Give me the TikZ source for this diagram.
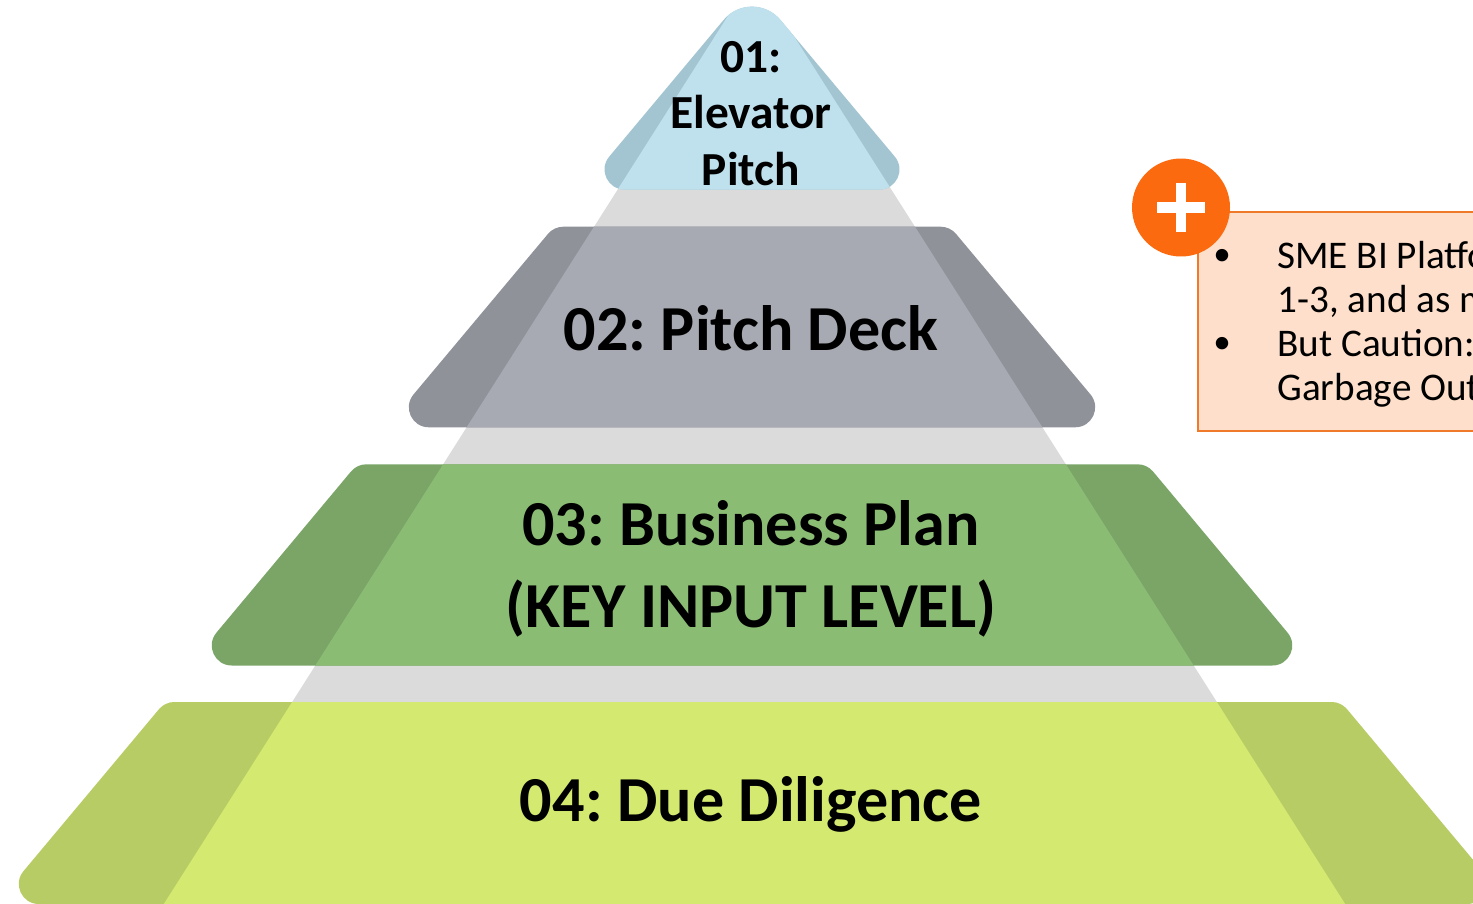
\documentclass[tikz,border=0pt]{standalone}
\usepackage{fontspec}
\setmainfont{Carlito}
\frenchspacing

% Rounded trapezoid: centre x, top y, bottom y, top half width, bottom half width, corner radius
\newcommand\settrap[6]{%
  \pgfmathsetmacro\tzcx{#1}\pgfmathsetmacro\tzyt{#2}\pgfmathsetmacro\tzyb{#3}%
  \pgfmathsetmacro\tzht{#4}\pgfmathsetmacro\tzhb{#5}\pgfmathsetmacro\tzr{#6}%
  \pgfmathsetmacro\tzL{veclen(\tzhb-\tzht,\tzyb-\tzyt)}%
  \pgfmathsetmacro\tzux{(\tzhb-\tzht)/\tzL}%
  \pgfmathsetmacro\tzuy{(\tzyb-\tzyt)/\tzL}%
  \pgfmathsetmacro\tzth{atan2(\tzyb-\tzyt,\tzhb-\tzht)}%
  \pgfmathsetmacro\tzdb{\tzr/tan(\tzth/2)}%
  \pgfmathsetmacro\tzdt{\tzr*tan(\tzth/2)}%
  \pgfmathsetmacro\tzkb{4/3*tan((180-\tzth)/4)/tan((180-\tzth)/2)}%
  \pgfmathsetmacro\tzkt{4/3*tan(\tzth/4)/tan(\tzth/2)}%
}
\newcommand\trapcurve{%
  ({\tzcx-\tzht+\tzdt},{\tzyt}) -- ({\tzcx+\tzht-\tzdt},{\tzyt})
  .. controls ({\tzcx+\tzht-(1-\tzkt)*\tzdt},{\tzyt})
  and ({\tzcx+\tzht+(1-\tzkt)*\tzdt*\tzux},{\tzyt+(1-\tzkt)*\tzdt*\tzuy})
  .. ({\tzcx+\tzht+\tzdt*\tzux},{\tzyt+\tzdt*\tzuy})
  -- ({\tzcx+\tzhb-\tzdb*\tzux},{\tzyb-\tzdb*\tzuy})
  .. controls ({\tzcx+\tzhb-(1-\tzkb)*\tzdb*\tzux},{\tzyb-(1-\tzkb)*\tzdb*\tzuy})
  and ({\tzcx+\tzhb-(1-\tzkb)*\tzdb},{\tzyb})
  .. ({\tzcx+\tzhb-\tzdb},{\tzyb})
  -- ({\tzcx-\tzhb+\tzdb},{\tzyb})
  .. controls ({\tzcx-\tzhb+(1-\tzkb)*\tzdb},{\tzyb})
  and ({\tzcx-\tzhb+(1-\tzkb)*\tzdb*\tzux},{\tzyb-(1-\tzkb)*\tzdb*\tzuy})
  .. ({\tzcx-\tzhb+\tzdb*\tzux},{\tzyb-\tzdb*\tzuy})
  -- ({\tzcx-\tzht-\tzdt*\tzux},{\tzyt+\tzdt*\tzuy})
  .. controls ({\tzcx-\tzht-(1-\tzkt)*\tzdt*\tzux},{\tzyt+(1-\tzkt)*\tzdt*\tzuy})
  and ({\tzcx-\tzht+(1-\tzkt)*\tzdt},{\tzyt})
  .. ({\tzcx-\tzht+\tzdt},{\tzyt}) -- cycle}

% Rounded triangle: centre x, apex y, bottom y, bottom half width, base radius, apex radius
\newcommand\settri[6]{%
  \pgfmathsetmacro\tacx{#1}\pgfmathsetmacro\taya{#2}\pgfmathsetmacro\tayb{#3}%
  \pgfmathsetmacro\tahb{#4}\pgfmathsetmacro\tar{#5}\pgfmathsetmacro\tara{#6}%
  \pgfmathsetmacro\taL{veclen(\tahb,\tayb-\taya)}%
  \pgfmathsetmacro\taux{\tahb/\taL}%
  \pgfmathsetmacro\tauy{(\tayb-\taya)/\taL}%
  \pgfmathsetmacro\tath{atan2(\tayb-\taya,\tahb)}%
  \pgfmathsetmacro\tadb{\tar/tan(\tath/2)}%
  \pgfmathsetmacro\takb{4/3*tan((180-\tath)/4)/tan((180-\tath)/2)}%
  \pgfmathsetmacro\tada{\tara*tan(\tath)}%
  \pgfmathsetmacro\taka{4/3*tan(\tath/2)/tan(\tath)}%
}
\newcommand\tricurve{%
  ({\tacx+\tada*\taux},{\taya+\tada*\tauy})
  -- ({\tacx+\tahb-\tadb*\taux},{\tayb-\tadb*\tauy})
  .. controls ({\tacx+\tahb-(1-\takb)*\tadb*\taux},{\tayb-(1-\takb)*\tadb*\tauy})
  and ({\tacx+\tahb-(1-\takb)*\tadb},{\tayb})
  .. ({\tacx+\tahb-\tadb},{\tayb})
  -- ({\tacx-\tahb+\tadb},{\tayb})
  .. controls ({\tacx-\tahb+(1-\takb)*\tadb},{\tayb})
  and ({\tacx-\tahb+(1-\takb)*\tadb*\taux},{\tayb-(1-\takb)*\tadb*\tauy})
  .. ({\tacx-\tahb+\tadb*\taux},{\tayb-\tadb*\tauy})
  -- ({\tacx-\tada*\taux},{\taya+\tada*\tauy})
  .. controls ({\tacx-(1-\taka)*\tada*\taux},{\taya+(1-\taka)*\tada*\tauy})
  and ({\tacx+(1-\taka)*\tada*\taux},{\taya+(1-\taka)*\tada*\tauy})
  .. ({\tacx+\tada*\taux},{\taya+\tada*\tauy}) -- cycle}

% The light core of the pyramid
\newcommand\corepath{(754.5,-26) -- (1349,910) -- (160,910) -- cycle}

\definecolor{coregray}{HTML}{DBDBDB}
\definecolor{bluelight}{HTML}{BEE1ED}
\definecolor{bluedark}{HTML}{A3C5D1}
\definecolor{greylight}{HTML}{A7AAB2}
\definecolor{greydark}{HTML}{8F9299}
\definecolor{greenlight}{HTML}{8BBC74}
\definecolor{greendark}{HTML}{7AA567}
\definecolor{limelight}{HTML}{D3E96F}
\definecolor{limedark}{HTML}{B8CC65}
\definecolor{plusorange}{HTML}{FB6A0E}
\definecolor{notefill}{HTML}{FDDFCB}
\definecolor{noteline}{HTML}{EF7A2A}

\tikzset{
  tierlabel/.style={anchor=base, align=center, text=black,
    font=\fontsize{36.5pt}{46.5pt}\selectfont\bfseries, inner sep=0pt},
  toplabel/.style={anchor=base, align=center, text=black,
    font=\fontsize{27pt}{32.1pt}\selectfont\bfseries, inner sep=0pt},
  notetext/.style={anchor=base west, text=black,
    font=\fontsize{22.3pt}{25pt}\selectfont, inner sep=0pt},
  notebullet/.style={anchor=base, text=black,
    font=\fontsize{20pt}{25pt}\selectfont, inner sep=0pt},
}

\begin{document}
\begin{tikzpicture}[x=0.02cm, y=-0.02cm]
\clip (0,0) rectangle (1473,903);
\fill[white] (0,0) rectangle (1473,903);

% grey core visible between the tiers
\fill[coregray] (700,60) -- (809,60) -- (1349,910) -- (160,910) -- cycle;

% tier 1
\settri{752}{-14}{189.5}{170.3}{20}{37}
\fill[bluedark] \tricurve;
\begin{scope}\clip \corepath; \fill[bluelight] \tricurve; \end{scope}

% tier 2
\settrap{752}{226.7}{427.3}{198}{366}{20}
\fill[greydark] \trapcurve;
\begin{scope}\clip \corepath; \fill[greylight] \trapcurve; \end{scope}

% tier 3
\settrap{752}{464.3}{665.5}{395}{563}{20}
\fill[greendark] \trapcurve;
\begin{scope}\clip \corepath; \fill[greenlight] \trapcurve; \end{scope}

% tier 4
\settrap{753}{702}{904}{588}{757}{20}
\fill[limedark] \trapcurve;
\begin{scope}\clip \corepath; \fill[limelight] \trapcurve; \end{scope}

% tier labels (base anchor sits on the last line)
\node[toplabel] (t1) at (751,185) {01:\\Elevator\\Pitch};
\node[tierlabel] (t2) at (751,350) {02: Pitch Deck};
\node[tierlabel] (t3) at (751,627) {03: Business Plan\\(KEY INPUT LEVEL)};
\node[tierlabel] (t4) at (751,821) {04: Due Diligence};

% side note
\node[draw=noteline, fill=notefill, line width=0.04cm, anchor=north west,
      minimum width=6cm, minimum height=4.38cm, inner sep=0pt] (note) at (1197,211) {};
\node[notebullet] (b1) at (1222,265) {•};
\node[notetext] (n1) at (1277,268) {SME BI Platfo};
\node[notetext] (n2) at (1277,312) {1-3, and as m};
\node[notebullet] (b2) at (1222,353) {•};
\node[notetext] (n3) at (1277,356) {But Caution:};
\node[notetext] (n4) at (1277,400) {Garbage Out};

% plus badge
\node[circle, fill=plusorange, minimum size=1.96cm, inner sep=0pt] (plus) at (1181,207.5) {};
\draw[white, line width=0.22cm] (plus.center) ++(-24,0) -- ++(48,0);
\draw[white, line width=0.2cm] (plus.center) ++(0,-24.5) -- ++(0,49);
\end{tikzpicture}
\end{document}
